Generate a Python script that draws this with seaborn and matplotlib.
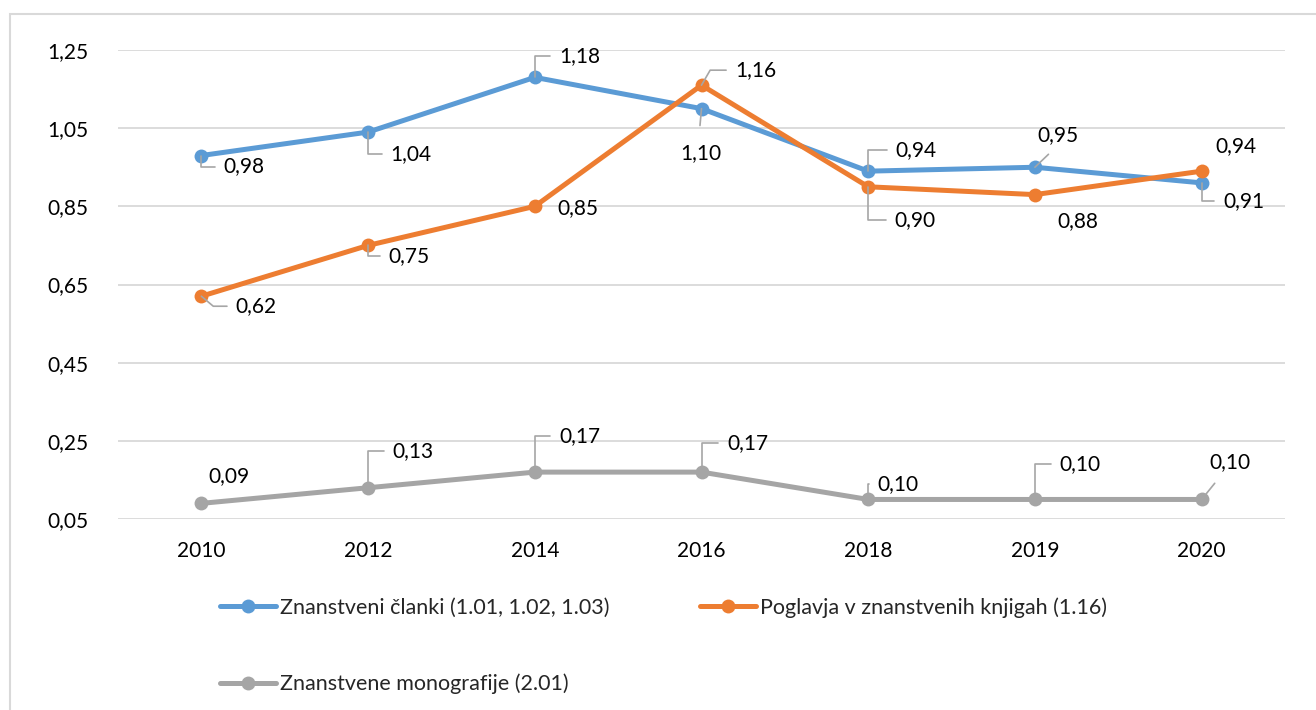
import matplotlib
matplotlib.use("Agg")
import matplotlib.pyplot as plt
from matplotlib.lines import Line2D
from matplotlib.patches import Rectangle
import pandas as pd
import seaborn as sns

years = ["2010", "2012", "2014", "2016", "2018", "2019", "2020"]
clanki = [0.98, 1.04, 1.18, 1.10, 0.94, 0.95, 0.91]
poglavja = [0.62, 0.75, 0.85, 1.16, 0.90, 0.88, 0.94]
monografije = [0.09, 0.13, 0.17, 0.17, 0.10, 0.10, 0.10]
series_names = [
    "Znanstveni članki (1.01, 1.02, 1.03)",
    "Poglavja v znanstvenih knjigah (1.16)",
    "Znanstvene monografije (2.01)",
]
colors = ["#5B9BD5", "#ED7D31", "#A5A5A5"]

# label placement: (dx, dy) offset in pixels from the point, leader style
label_pos = [
    [(43, -11, "elbow"), (43, -22, "elbow"), (45, 21, "elbow"), (-1, -44, "top"),
     (48, 21, "elbow"), (23, 32, "bottom"), (42, -18, "elbow")],
    [(55, -10, "diag-"), (41, -11, "elbow"), (43, -2, None), (54, 15, "diag+"),
     (47, -33, "elbow"), (43, -26, None), (34, 25, None)],
    [(28, 27, None), (45, 37, "elbow"), (45, 36, "elbow"), (46, 29, "elbow"),
     (30, 15, "elbow"), (45, 35, "elbow"), (28, 37, "bottom2")],
]

rows = []
for name, vals in zip(series_names, [clanki, poglavja, monografije]):
    for y, v in zip(years, vals):
        rows.append({"leto": y, "vrednost": v, "serija": name})
df = pd.DataFrame(rows)

sns.set_style("white")
plt.rcParams["font.family"] = ["Lato", "DejaVu Sans"]

fig = plt.figure(figsize=(13.16, 7.10), dpi=100)
ax = fig.add_axes([118 / 1316, 1 - 519 / 710, (1285 - 118) / 1316, (519 - 50) / 710])

sns.lineplot(data=df, x="leto", y="vrednost", hue="serija", palette=colors,
             marker="o", markersize=10, markeredgewidth=0, linewidth=3.6,
             legend=False, ax=ax, sort=False)

ax.set_xlim(-0.5, len(years) - 0.5)
ax.set_ylim(0.05, 1.25)
yt = [0.05, 0.25, 0.45, 0.65, 0.85, 1.05, 1.25]
ax.set_yticks(yt)
ax.set_yticklabels([f"{t:.2f}".replace(".", ",") for t in yt])
ax.grid(axis="y", color="#D9D9D9", linewidth=1.3)
ax.set_axisbelow(True)
for s in ax.spines.values():
    s.set_visible(False)
ax.tick_params(axis="both", length=0, labelsize=15, colors="#000000")
ax.tick_params(axis="y", pad=21)
ax.tick_params(axis="x", pad=16)
ax.set_xlabel("")
ax.set_ylabel("")

lead = dict(arrowstyle="-", color="#A6A6A6", lw=1.2, shrinkB=0)
for vals, positions in zip([clanki, poglavja, monografije], label_pos):
    for i, (v, (dx, dy, style)) in enumerate(zip(vals, positions)):
        txt = f"{v:.2f}".replace(".", ",")
        props = None
        if style == "elbow":
            props = dict(lead, connectionstyle="angle,angleA=0,angleB=90,rad=0",
                         relpos=(0, 0.5), shrinkA=4)
        elif style == "diag+":
            props = dict(lead, connectionstyle="angle,angleA=0,angleB=60,rad=0",
                         relpos=(0, 0.5), shrinkA=4)
        elif style == "diag-":
            props = dict(lead, connectionstyle="angle,angleA=0,angleB=140,rad=0",
                         relpos=(0, 0.5), shrinkA=4)
        elif style == "top":
            props = dict(lead, connectionstyle="arc3", relpos=(0.45, 1), shrinkA=10)
        elif style == "bottom":
            props = dict(lead, connectionstyle="arc3", relpos=(0.5, 0), shrinkA=6)
        elif style == "bottom2":
            props = dict(lead, connectionstyle="arc3", relpos=(0.35, 0), shrinkA=7)
        ax.annotate(txt, xy=(i, v), xytext=(dx, dy), textcoords="offset pixels",
                    ha="center", va="center", fontsize=15, color="#000000",
                    arrowprops=props, zorder=5)

# legend is filled column by column: blue + gray in the first column, orange in the second
order = [0, 2, 1]
handles = [Line2D([0], [0], color=colors[k], lw=3.6, marker="o", markersize=10,
                  markeredgewidth=0) for k in order]
fig.legend(handles, [series_names[k] for k in order], ncol=2, loc="upper left",
           bbox_to_anchor=(220 / 1316, 1 - 597 / 710), frameon=False,
           fontsize=15.5, handlelength=2.6, handletextpad=0.2,
           columnspacing=4.2, labelspacing=2.6, borderpad=0, borderaxespad=0)

fig.patches.append(Rectangle((10 / 1316, -0.1), 1.2, 1 - 14 / 710 + 0.1,
                             transform=fig.transFigure, fill=False,
                             edgecolor="#D9D9D9", linewidth=1.5, zorder=-1))

fig.savefig("out.png", dpi=100)
